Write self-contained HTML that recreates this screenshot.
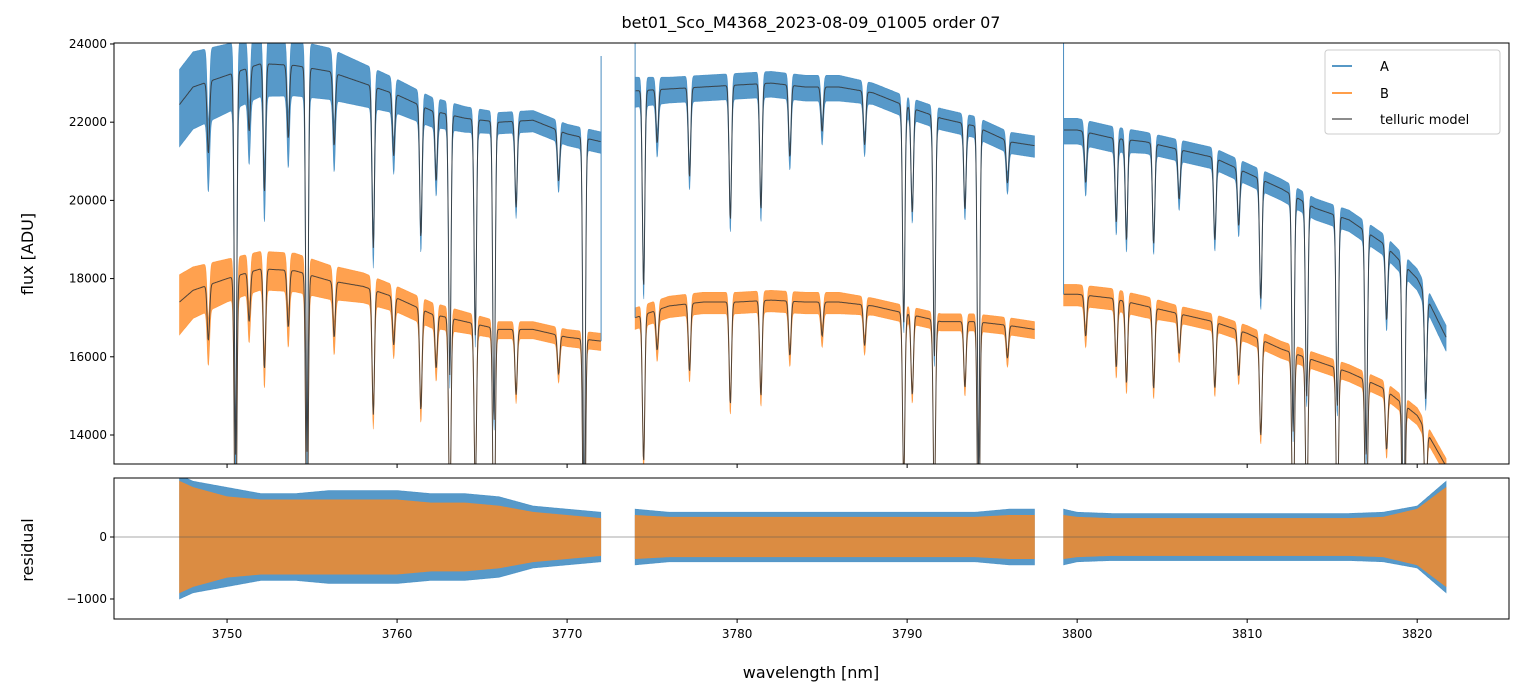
<!DOCTYPE html>
<html><head><meta charset="utf-8">
<style>
html,body{margin:0;padding:0;background:#fff;}
svg{display:block;font-family:"DejaVu Sans","Liberation Sans",sans-serif;}
</style></head>
<body>
<svg id="chart" width="1523" height="696" viewBox="0 0 1523 696">
<text x="811" y="28" text-anchor="middle" font-size="16">bet01_Sco_M4368_2023-08-09_01005  order 07</text>
<g id="main"></g>
<g id="resid"></g>
<text transform="translate(33,254) rotate(-90)" text-anchor="middle" font-size="16">flux [ADU]</text>
<text transform="translate(33,550) rotate(-90)" text-anchor="middle" font-size="16">residual</text>
<text x="811" y="678" text-anchor="middle" font-size="16">wavelength [nm]</text>
<g>
<rect x="1325" y="50" width="175" height="84" rx="3" fill="#fff" fill-opacity="0.85" stroke="#ccc"/>
<line x1="1332" y1="66" x2="1352" y2="66" stroke="#1f77b4" stroke-width="1.5"/>
<text x="1380" y="71" font-size="13">A</text>
<line x1="1332" y1="93" x2="1352" y2="93" stroke="#ff7f0e" stroke-width="1.5"/>
<text x="1380" y="98" font-size="13">B</text>
<line x1="1332" y1="119" x2="1352" y2="119" stroke="#666" stroke-width="1.5"/>
<text x="1380" y="124" font-size="13">telluric model</text>
</g>
</svg>
<script>
const segStart=[3747.2,3774.0,3799.2];
const segEnd=[3772.0,3797.5,3821.7];
const knotWl=[3747.2,3748,3750,3752,3754,3756,3758,3760,3762,3764,3766,3768,3770,3772,
 3774,3776,3778,3780,3782,3784,3786,3788,3790,3792,3794,3796,3797.5,
 3799.2,3800,3802,3804,3806,3808,3810,3812,3814,3816,3818,3820,3821.7];
const contA=[22450,22900,23200,23500,23450,23300,23000,22700,22300,22100,22000,22050,21700,21500,
 22800,22850,22900,22950,23000,22900,22900,22750,22400,22100,21900,21500,21400,
 21800,21800,21600,21500,21300,21100,20700,20300,19800,19500,18900,18000,16500];
const contB=[17400,17700,18000,18250,18200,17950,17800,17500,17100,16900,16700,16700,16500,16400,
 17000,17300,17400,17400,17450,17400,17400,17300,17100,16900,16900,16800,16700,
 17600,17600,17500,17300,17100,16900,16600,16200,15900,15600,15200,14500,13200];
const noiseA=[900,900,800,700,650,600,500,400,350,300,250,250,250,250,
 350,300,300,300,300,300,300,250,250,250,250,250,250,
 300,300,300,250,250,250,250,250,250,250,250,250,300];
const noiseB=[700,600,500,450,450,400,350,300,300,250,200,200,200,200,
 250,250,250,250,250,250,250,200,200,200,200,200,200,
 250,250,250,250,200,200,200,200,200,200,200,200,200];
const residA=[1000,900,800,700,700,750,750,750,700,700,650,500,450,400,
 450,400,400,400,400,400,400,400,400,400,400,450,450,
 450,400,380,380,380,380,380,380,380,380,400,500,900];
const residB=[900,800,650,600,600,600,600,600,550,550,500,400,350,300,
 350,320,320,320,320,320,320,320,320,320,320,350,350,
 350,320,300,300,300,300,300,300,300,300,320,450,800];
const lineWl=[3748.9,3750.5,3751.3,3752.2,3753.6,3754.7,3756.3,3758.6,3759.8,3761.4,3762.3,3763.1,3764.6,3765.7,3767.0,3769.5,3771.0,
 3774.5,3775.3,3777.2,3779.6,3781.4,3783.1,3785.0,3787.5,3789.8,3790.3,3791.6,3793.4,3794.2,3795.9,
 3800.5,3802.3,3802.9,3804.5,3806.0,3808.1,3809.5,3810.8,3812.7,3813.5,3815.3,3817.0,3818.2,3819.2,3820.5];
const lineDepth=[0.08,0.42,0.07,0.14,0.08,0.42,0.08,0.18,0.07,0.15,0.08,0.3,0.25,0.35,0.1,0.06,0.45,
 0.22,0.06,0.1,0.15,0.14,0.08,0.05,0.06,0.25,0.12,0.28,0.1,0.4,0.05,
 0.06,0.1,0.12,0.12,0.06,0.1,0.07,0.15,0.3,0.25,0.25,0.3,0.1,0.45,0.15];
const xTicks=[3750,3760,3770,3780,3790,3800,3810,3820];
const yTicks=[14000,16000,18000,20000,22000,24000];
const rTicks=[-1000,0];

const NS='http://www.w3.org/2000/svg';
const PL=114,PR=1509,MT=43,MB=464,RT=478,RB=619;
const xMin=3743.35,xMax=3825.4;
const yMin=13258,yMax=24025,rMin=-1323,rMax=952;
const X=w=>PL+(w-xMin)/(xMax-xMin)*(PR-PL);
const Y=v=>MB-(v-yMin)/(yMax-yMin)*(MB-MT);
const R=v=>RB-(v-rMin)/(rMax-rMin)*(RB-RT);
function mk(tag,attrs,parent){const e=document.createElementNS(NS,tag);for(const k in attrs)e.setAttribute(k,attrs[k]);parent.appendChild(e);return e;}
function interp(arr,w){for(let i=0;i<knotWl.length-1;i++){if(w>=knotWl[i]&&w<=knotWl[i+1]){const t=(w-knotWl[i])/(knotWl[i+1]-knotWl[i]||1);return arr[i]+t*(arr[i+1]-arr[i]);}}return arr[w<knotWl[0]?0:arr.length-1];}
function trans(w){let f=1;for(let i=0;i<lineWl.length;i++){const d=(w-lineWl[i])/0.07;if(Math.abs(d)<6)f*=1-lineDepth[i]*Math.exp(-d*d/2);}return f;}
const main=document.getElementById('main'),resid=document.getElementById('resid');
const defs=mk('defs',{},main);
const c1=mk('clipPath',{id:'cm'},defs);mk('rect',{x:PL,y:MT,width:PR-PL,height:MB-MT},c1);
const c2=mk('clipPath',{id:'cr'},defs);mk('rect',{x:PL,y:RT,width:PR-PL,height:RB-RT},c2);
const gm=mk('g',{'clip-path':'url(#cm)'},main);
const gr=mk('g',{'clip-path':'url(#cr)'},resid);
function band(cont,noise,color,name,useLines,scaleFn,g){
 for(let s=0;s<segStart.length;s++){
  const up=[],lo=[],mod=[];
  for(let w=segStart[s];w<=segEnd[s]+1e-9;w+=0.03){
   const t=useLines?trans(w):1;
   const c=cont?interp(cont,w)*t:0;
   const n=interp(noise,w)*(useLines?(0.6+0.4*t):1);
   up.push(X(w).toFixed(1)+','+scaleFn(c+n).toFixed(1));
   lo.unshift(X(w).toFixed(1)+','+scaleFn(c-n*(useLines?1.2:1)).toFixed(1));
   mod.push(X(w).toFixed(1)+','+scaleFn(c).toFixed(1));
  }
  const p=mk('polygon',{points:up.concat(lo).join(' '),fill:color,'fill-opacity':0.85,stroke:color,'stroke-width':0.6,'stroke-opacity':0.8},g);
  
  
  if(cont){const m=mk('polyline',{points:mod.join(' '),fill:'none',stroke:'#333','stroke-width':1,'stroke-opacity':0.85},g);
   
   }
 }
}
band(contA,noiseA,'#3a87c0','spectrum-a',true,Y,gm);
band(contB,noiseB,'#ff9030','spectrum-b',true,Y,gm);
band(null,residA,'#3a87c0','residual-a',false,R,gr);
band(null,residB,'#f28a2a','residual-b',false,R,gr);
mk('line',{x1:PL,x2:PR,y1:R(0),y2:R(0),stroke:'#555','stroke-width':0.6},gr);
[[segEnd[0],56],[segStart[1],43],[segStart[2],43]].forEach(([w,y])=>{mk('line',{x1:X(w),x2:X(w),y1:y,y2:Y(interp(contB,w)),stroke:'#4a8cc0','stroke-width':1},gm);});
mk('rect',{x:PL,y:MT,width:PR-PL,height:MB-MT,fill:'none',stroke:'#000','stroke-width':1},main);
mk('rect',{x:PL,y:RT,width:PR-PL,height:RB-RT,fill:'none',stroke:'#000','stroke-width':1},resid);
xTicks.forEach(t=>{
 mk('line',{x1:X(t),x2:X(t),y1:MB,y2:MB+4,stroke:'#000'},main);
 mk('line',{x1:X(t),x2:X(t),y1:RB,y2:RB+4,stroke:'#000'},resid);
 const tx=mk('text',{x:X(t),y:RB+19,'text-anchor':'middle','font-size':12},resid);tx.textContent=t;
 
 
});
yTicks.forEach(t=>{
 mk('line',{x1:PL-4,x2:PL,y1:Y(t),y2:Y(t),stroke:'#000'},main);
 const tx=mk('text',{x:PL-7,y:Y(t)+4,'text-anchor':'end','font-size':12},main);tx.textContent=t;
 
 
});
rTicks.forEach(t=>{
 mk('line',{x1:PL-4,x2:PL,y1:R(t),y2:R(t),stroke:'#000'},resid);
 const tx=mk('text',{x:PL-7,y:R(t)+4,'text-anchor':'end','font-size':12},resid);tx.textContent=(t<0?'\u2212'+(-t):t);
 
 
});
</script>
</body></html>
